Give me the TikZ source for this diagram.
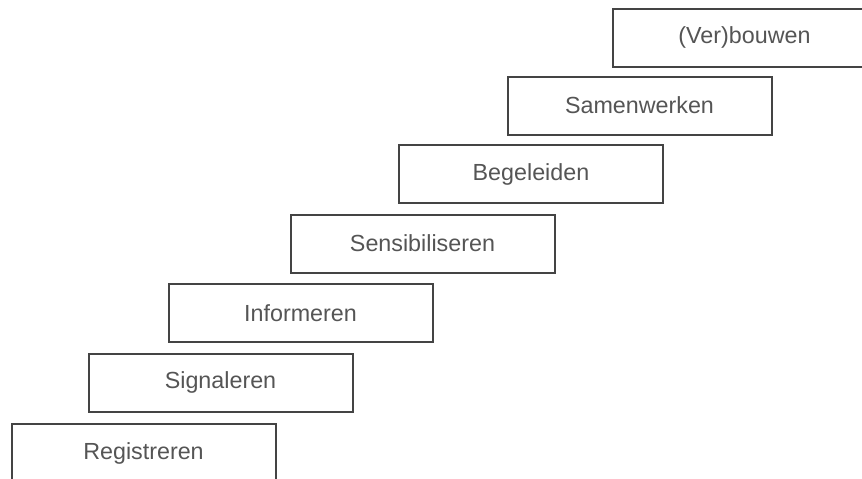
\documentclass[tikz,border=0pt]{standalone}
\usepackage{fontspec}
\setmainfont{Liberation Sans}
\definecolor{boxline}{HTML}{444444}
\definecolor{boxtext}{HTML}{555555}
\begin{document}
\begin{tikzpicture}[x=1pt,y=-1pt,
  stepbox/.style={draw=boxline, line width=2pt, fill=white, rectangle,
    minimum width=264pt, minimum height=58pt, inner sep=0pt,
    text=boxtext, font=\fontsize{23.3}{28}\selectfont}]
\useasboundingbox (0,0) rectangle (862,479);
\clip (0,0) rectangle (862,479);
\fill[white] (0,0) rectangle (862,479);
\node[stepbox] (verbouwen) at (744.5,37.5) {(Ver)bouwen};
\node[stepbox] (samenwerken) at (639.5,105.5) {Samenwerken};
\node[stepbox] (begeleiden) at (531,174) {Begeleiden};
\node[stepbox] (sensibiliseren) at (422.5,243.5) {Sensibiliseren};
\node[stepbox] (informeren) at (300.5,313) {Informeren};
\node[stepbox] (signaleren) at (220.5,382.5) {Signaleren};
\node[stepbox] (registreren) at (143.5,453) {Registreren};
\end{tikzpicture}
\end{document}
